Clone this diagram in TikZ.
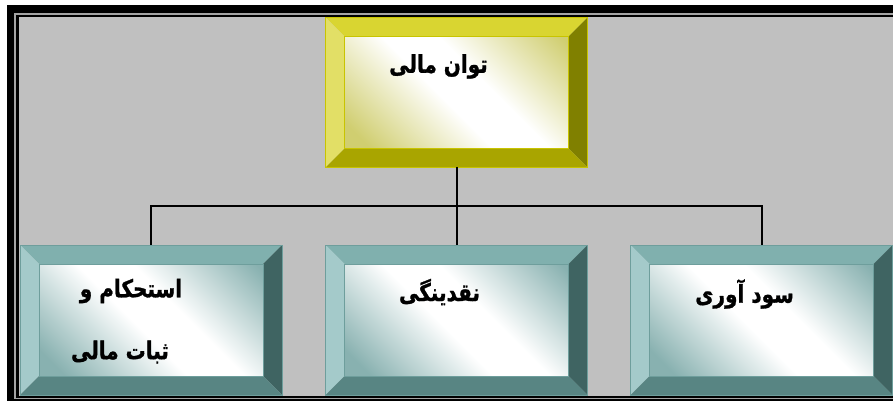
\documentclass[tikz,border=0pt]{standalone}
\usepackage{fontspec}
\newfontfamily\arabicfont[Script=Arabic, BoldFeatures={FakeBold=1.2}]{DejaVu Sans}
\TeXXeTstate=1
\usetikzlibrary{calc}

% frame colours
\definecolor{panelgray}{HTML}{C0C0C0}
\definecolor{rulegray}{HTML}{A4A4A4}
% olive/yellow bevel
\definecolor{yellowtop}{HTML}{D9D531}
\definecolor{yellowleft}{HTML}{E2DF66}
\definecolor{yellowright}{HTML}{808000}
\definecolor{yellowbottom}{HTML}{A9A500}
\definecolor{yellowedge}{HTML}{C8C400}
\definecolor{yellowtint}{HTML}{D0CE70}
% teal bevel
\definecolor{tealtop}{HTML}{80B0AE}
\definecolor{tealleft}{HTML}{A4CACA}
\definecolor{tealright}{HTML}{3F6462}
\definecolor{tealbottom}{HTML}{588583}
\definecolor{tealedge}{HTML}{6E9E9C}
\definecolor{tealtint}{HTML}{88B1B0}

\pgfdeclarehorizontalshading{yellowface}{100bp}{color(0bp)=(yellowtint); color(20bp)=(yellowtint); color(46bp)=(white); color(58bp)=(white); color(84bp)=(yellowtint); color(100bp)=(yellowtint)}
\pgfdeclarehorizontalshading{tealface}{100bp}{color(0bp)=(tealtint); color(20bp)=(tealtint); color(46bp)=(white); color(58bp)=(white); color(84bp)=(tealtint); color(100bp)=(tealtint)}

\tikzset{
  bevelbox/.style={
    minimum width=262pt, minimum height=150pt, inner sep=0pt, outer sep=0pt
  },
  boxlabel/.style={font=\arabicfont\bfseries\fontsize{20}{24}\selectfont, inner sep=0pt},
  link/.style={line width=2pt, black}
}

% label text, stretched upright like a tall Naskh face
\newcommand\rtltext[1]{\scalebox{1}[1.22]{\beginR #1\endR}}

% bevelled faces of a 262x150 box node: #1 node name, #2 colour prefix
\newcommand\drawbevel[2]{%
  \begin{scope}[shift={(#1.north west)}]
    \fill[#2top]    (0,0) -- (262,0) -- (243,19) -- (19,19) -- cycle;
    \fill[#2left]   (0,0) -- (19,19) -- (19,131) -- (0,150) -- cycle;
    \fill[#2right]  (262,0) -- (262,150) -- (243,131) -- (243,19) -- cycle;
    \fill[#2bottom] (0,150) -- (262,150) -- (243,131) -- (19,131) -- cycle;
    \shade[shading=#2face, shading angle=45] (19,19) rectangle (243,131);
    \draw[#2edge, line width=0.6pt] (19,19) rectangle (243,131);
    \draw[#2edge, line width=0.8pt] (0,0) rectangle (262,150);
  \end{scope}}

\begin{document}
\begin{tikzpicture}[x=1pt, y=-1pt]
  \useasboundingbox (0,0) rectangle (893,403);

  % double-ruled panel
  \fill[white] (0,0) rectangle (893,403);
  \fill[black] (7,5) rectangle (893,401);
  \fill[rulegray] (14,13) rectangle (893,398.5);
  \fill[black] (16,15) rectangle (893,397.5);
  \fill[panelgray] (18.5,17.5) rectangle (893,396);

  % boxes
  \node[bevelbox] (top) at (456.5,92.5) {};
  \node[bevelbox] (stab) at (151,320) {};
  \node[bevelbox] (liq) at (456.5,320) {};
  \node[bevelbox] (prof) at (761.5,320) {};
  \drawbevel{top}{yellow}
  \drawbevel{stab}{teal}
  \drawbevel{liq}{teal}
  \drawbevel{prof}{teal}

  % labels
  \node[boxlabel] (ltop) at ($(top)+(-18,-26)$) {\rtltext{توان مالی}};
  \node[boxlabel] (lstab1) at ($(stab)+(-20,-29)$) {\rtltext{استحکام و}};
  \node[boxlabel] (lstab2) at ($(stab)+(-31,32)$) {\rtltext{ثبات مالی}};
  \node[boxlabel] (lliq) at ($(liq)+(-17,-28)$) {\rtltext{نقدینگی}};
  \node[boxlabel] (lprof) at ($(prof)+(-17,-26)$) {\rtltext{سود آوری}};

  % connectors
  \coordinate (bus) at ($(top.south)+(0,39)$);
  \draw[link] (top.south) -- (bus);
  \draw[link] (bus) -| (stab.north);
  \draw[link] (bus) -| (prof.north);
  \draw[link] (bus) -- (liq.north);
\end{tikzpicture}
\end{document}
